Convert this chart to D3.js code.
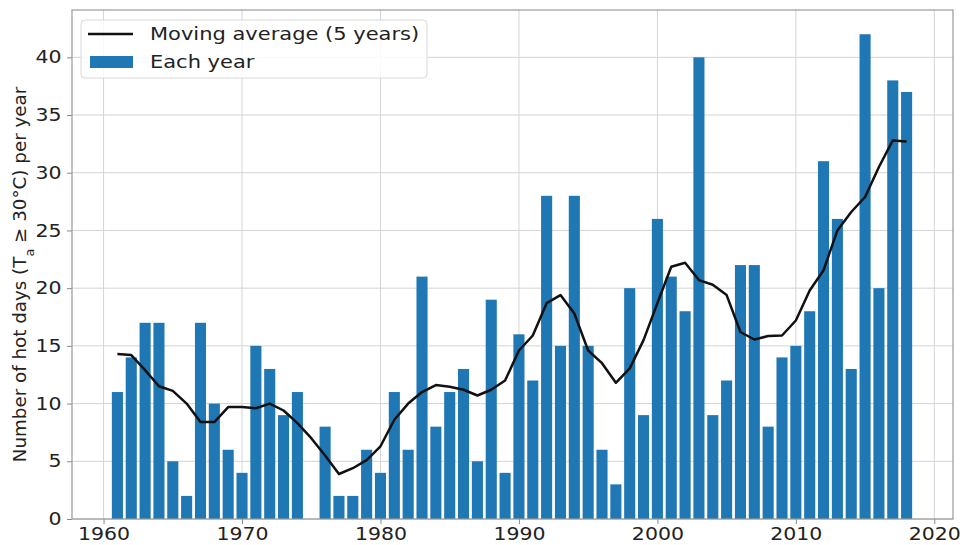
<!DOCTYPE html>
<html>
<head>
<meta charset="utf-8">
<script src="https://cdn.jsdelivr.net/npm/d3@7"></script>
<style>
  html, body { margin: 0; padding: 0; background: #fff; }
  svg { display: block; font-family: "DejaVu Sans", sans-serif; }
</style>
</head>
<body>
<svg id="chart" width="963" height="545"></svg>
<script>
const years = d3.range(1961, 2019)
const hotDays = [
  11, 14, 17, 17, 5, 2, 17, 10, 6, 4,
  15, 13, 9, 11, 0, 8, 2, 2, 6, 4,
  11, 6, 21, 8, 11, 13, 5, 19, 4, 16,
  12, 28, 15, 28, 15, 6, 3, 20, 9, 26,
  21, 18, 40, 9, 12, 22, 22, 8, 14, 15,
  18, 31, 26, 13, 42, 20, 38, 37,
]
const movingAvg = [
  14.3, 14.2, 12.9, 11.5, 11.1, 10.0, 8.4, 8.4, 9.7, 9.7,
  9.6, 10.0, 9.4, 8.3, 7.0, 5.5, 3.9, 4.4, 5.1, 6.3,
  8.6, 10.0, 11.0, 11.6, 11.45, 11.2, 10.7, 11.2, 12.0, 14.6,
  15.9, 18.7, 19.4, 17.8, 14.6, 13.5, 11.8, 13.05, 15.5, 18.7,
  21.85, 22.2, 20.7, 20.3, 19.4, 16.2, 15.55, 15.85, 15.9, 17.2,
  19.8, 21.55, 25.0, 26.6, 27.9, 30.5, 32.8, 32.7,
]
const xTicks = [1960, 1970, 1980, 1990, 2000, 2010, 2020]
const yTicks = [0, 5, 10, 15, 20, 25, 30, 35, 40]
const legendLabels = ["Moving average (5 years)", "Each year"]

const width = 963
const height = 545
const m = {top: 10, right: 10, bottom: 26, left: 72}
const iw = width - m.left - m.right
const ih = height - m.top - m.bottom
const barColor = "#1f77b4"
const fontSize = 17.5
// the source picture is a bit stretched sideways, so horizontal text is widened
const stretch = 1.17

const svg = d3.select("#chart")
const root = svg.append("g").attr("transform", `translate(${m.left},${m.top})`)

const x = d3.scaleLinear().domain([1957.72, 2021.35]).range([0, iw])
const y = d3.scaleLinear().domain([0, 44.1]).range([ih, 0])

// grid
root.append("g")
  .selectAll("line")
  .data(xTicks)
  .join("line")
  .attr("x1", (d) => x(d))
  .attr("x2", (d) => x(d))
  .attr("y1", 0)
  .attr("y2", ih)
  .attr("stroke", "#d4d4d4")
  .attr("stroke-width", 1)

root.append("g")
  .selectAll("line")
  .data(yTicks)
  .join("line")
  .attr("x1", 0)
  .attr("x2", iw)
  .attr("y1", (d) => y(d))
  .attr("y2", (d) => y(d))
  .attr("stroke", "#d4d4d4")
  .attr("stroke-width", 1)

// bars
const bw = x(1960.8) - x(1960)
root.append("g")
  .selectAll("rect")
  .data(years.map((yr, i) => ({yr, v: hotDays[i]})))
  .join("rect")
  .attr("x", (d) => x(d.yr - 0.4))
  .attr("y", (d) => y(d.v))
  .attr("width", bw)
  .attr("height", (d) => y(0) - y(d.v))
  .attr("fill", barColor)

// moving average line
const ln = d3.line()
  .x((d) => x(d.yr))
  .y((d) => y(d.v))

root.append("path")
  .datum(years.map((yr, i) => ({yr, v: movingAvg[i]})))
  .attr("fill", "none")
  .attr("stroke", "#111")
  .attr("stroke-width", 2.5)
  .attr("stroke-linejoin", "round")
  .attr("d", ln)

// axes
const xAxis = root.append("g")
  .attr("transform", `translate(0,${ih})`)
  .call(d3.axisBottom(x).tickValues(xTicks).tickFormat(d3.format("d")).tickSize(5).tickPadding(4))
const yAxis = root.append("g")
  .call(d3.axisLeft(y).tickValues(yTicks).tickSize(5).tickPadding(4))

for (const ax of [xAxis, yAxis]) {
  ax.select(".domain").remove()
  ax.selectAll(".tick line").attr("stroke", "#888")
  ax.selectAll(".tick text")
    .attr("font-family", "DejaVu Sans, sans-serif")
    .attr("font-size", fontSize)
    .attr("fill", "#222")
    .attr("transform", `scale(${stretch},1)`)
}

// frame
root.append("rect")
  .attr("x", 0)
  .attr("y", 0)
  .attr("width", iw)
  .attr("height", ih)
  .attr("fill", "none")
  .attr("stroke", "#999")
  .attr("stroke-width", 1.2)

// y label
const yl = svg.append("text")
  .attr("transform", `translate(26,${m.top + ih / 2 + 10}) rotate(-90)`)
  .attr("text-anchor", "middle")
  .attr("font-size", 18.3)
  .attr("fill", "#222")
yl.append("tspan").text("Number of hot days (T")
yl.append("tspan").attr("baseline-shift", "sub").attr("font-size", 18.3 * 0.7).text("a")
yl.append("tspan").text(" ≥ 30°C) per year")

// legend
const legend = root.append("g").attr("transform", `translate(${81 - m.left},${20 - m.top})`)
legend.append("rect")
  .attr("width", 346)
  .attr("height", 58)
  .attr("rx", 4)
  .attr("fill", "#fff")
  .attr("fill-opacity", 0.85)
  .attr("stroke", "#d8d8d8")

legend.append("line")
  .attr("x1", 7)
  .attr("x2", 52)
  .attr("y1", 14)
  .attr("y2", 14)
  .attr("stroke", "#111")
  .attr("stroke-width", 2.5)

legend.append("rect")
  .attr("x", 9)
  .attr("y", 36)
  .attr("width", 43)
  .attr("height", 12)
  .attr("fill", barColor)

legend.selectAll("text.lbl")
  .data(legendLabels)
  .join("text")
  .attr("class", "lbl")
  .attr("transform", (d, i) => `translate(69,${14 + i * 28}) scale(1.2,1)`)
  .attr("dy", "0.35em")
  .attr("font-size", fontSize)
  .attr("fill", "#222")
  .text((d) => d)
</script>
</body>
</html>
